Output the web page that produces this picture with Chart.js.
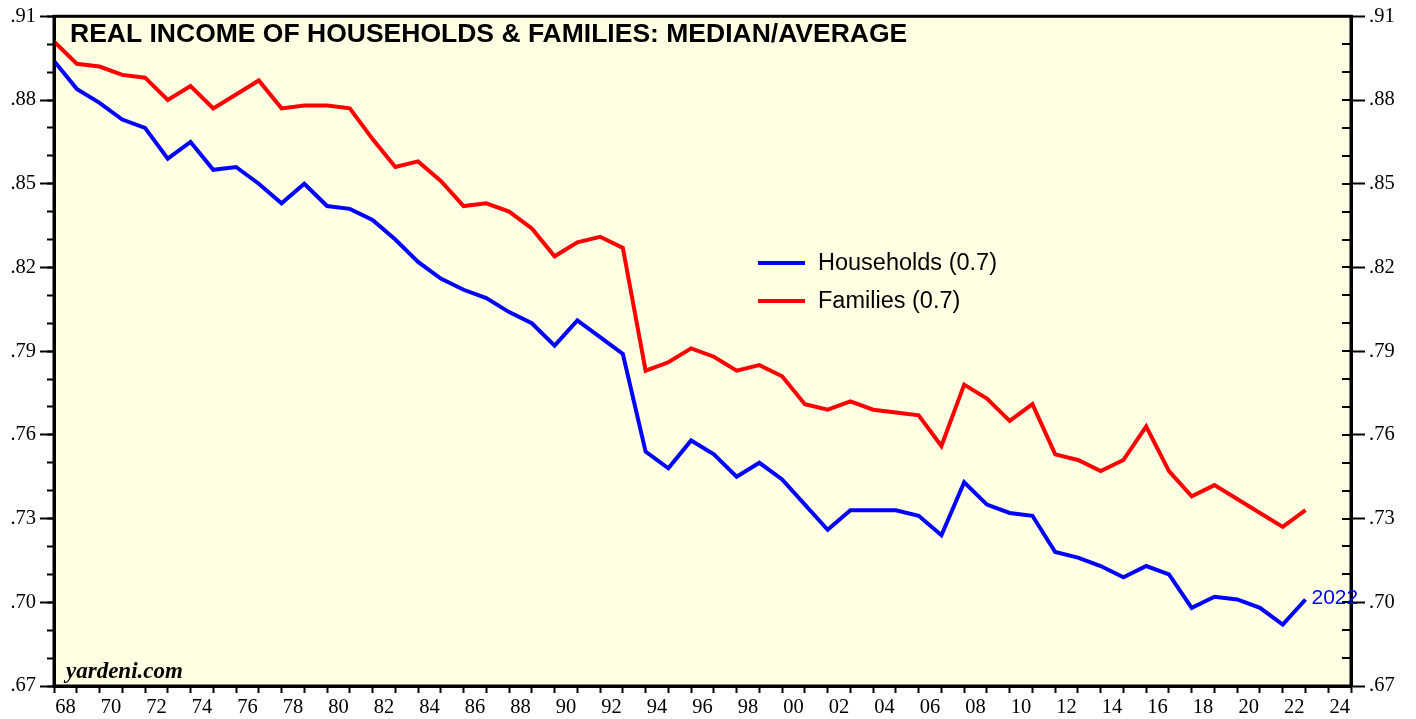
<!DOCTYPE html>
<html>
<head>
<meta charset="utf-8">
<script src="https://cdn.jsdelivr.net/npm/chart.js@4"></script>
<style>
  html, body { margin: 0; padding: 0; background: #fff; }
  #wrap { width: 1416px; height: 719px; position: relative; }
</style>
</head>
<body>
<div id="wrap"><canvas id="chart"></canvas></div>
<script>
const years = [1967, 1968, 1969, 1970, 1971, 1972, 1973, 1974, 1975, 1976,
    1977, 1978, 1979, 1980, 1981, 1982, 1983, 1984, 1985, 1986,
    1987, 1988, 1989, 1990, 1991, 1992, 1993, 1994, 1995, 1996,
    1997, 1998, 1999, 2000, 2001, 2002, 2003, 2004, 2005, 2006,
    2007, 2008, 2009, 2010, 2011, 2012, 2013, 2014, 2015, 2016,
    2017, 2018, 2019, 2020, 2021, 2022];

// median / average ratio
const households = [.894, .884, .879, .873, .870, .859, .865, .855, .856, .850,
    .843, .850, .842, .841, .837, .830, .822, .816, .812, .809,
    .804, .800, .792, .801, .795, .789, .754, .748, .758, .753,
    .745, .750, .744, .735, .726, .733, .733, .733, .731, .724,
    .743, .735, .732, .731, .718, .716, .713, .709, .713, .710,
    .698, .702, .701, .698, .692, .701];

const families = [.901, .893, .892, .889, .888, .880, .885, .877, .882, .887,
    .877, .878, .878, .877, .866, .856, .858, .851, .842, .843,
    .840, .834, .824, .829, .831, .827, .783, .786, .791, .788,
    .783, .785, .781, .771, .769, .772, .769, .768, .767, .756,
    .778, .773, .765, .771, .753, .751, .747, .751, .763, .747,
    .738, .742, .737, .732, .727, .733];

const seriesNames = ['Households (0.7)', 'Families (0.7)'];
const yMin = .67, yMax = .91;
const xMin = 1967, xMax = 2024;

const serif = '"Liberation Serif", "Times New Roman", serif';
const sans = '"Liberation Sans", Arial, sans-serif';

// plot background + frame + text
const decor = {
    id: 'decor',
    beforeDraw(chart) {
        const { ctx, chartArea: a } = chart;
        ctx.save();
        ctx.fillStyle = '#FFFFE3';
        ctx.fillRect(a.left, a.top, a.right - a.left, a.bottom - a.top);
        ctx.restore();
    },
    afterDraw(chart) {
        const { ctx, chartArea: a } = chart;
        ctx.save();
        ctx.strokeStyle = '#000';
        ctx.lineWidth = 3;
        ctx.strokeRect(a.left, a.top, a.right - a.left, a.bottom - a.top);

        // right side minor ticks point into the plot
        const rs = chart.scales.yMinorR;
        ctx.lineWidth = 2;
        rs.ticks.forEach(t => {
            const py = Math.round(rs.getPixelForValue(t.value));
            ctx.beginPath();
            ctx.moveTo(a.right - 9, py);
            ctx.lineTo(a.right, py);
            ctx.stroke();
        });

        ctx.fillStyle = '#000';
        ctx.textBaseline = 'alphabetic';
        ctx.font = 'bold 26.5px ' + sans;
        ctx.fillText('REAL INCOME OF HOUSEHOLDS & FAMILIES: MEDIAN/AVERAGE', 70, 42);

        ctx.font = 'italic bold 23px ' + serif;
        ctx.fillText('yardeni.com', 66, 678);

        // legend
        chart.data.datasets.forEach((ds, i) => {
            const y = 263 + i * 38;
            ctx.strokeStyle = ds.borderColor;
            ctx.lineWidth = 4;
            ctx.beginPath();
            ctx.moveTo(758, y);
            ctx.lineTo(805, y);
            ctx.stroke();
            ctx.fillStyle = '#000';
            ctx.font = '23.5px ' + sans;
            ctx.textBaseline = 'middle';
            ctx.fillText(ds.label, 818, y + 1);
        });

        // last value label
        const xs = chart.scales.x, ys = chart.scales.y;
        const last = years.length - 1;
        ctx.fillStyle = '#0000FF';
        ctx.font = '21px ' + sans;
        ctx.textBaseline = 'middle';
        ctx.fillText(String(years[last]), xs.getPixelForValue(years[last]) + 6,
            ys.getPixelForValue(households[last]) - 1);
        ctx.restore();
    }
};

const fmtY = v => {
    const c = Math.round(v * 100);
    return (c - 67) % 3 === 0 ? '.' + c : '';
};

function yAxis(position, major) {
    const hidden = !major && position === 'right';
    return {
        type: 'linear',
        position: position,
        min: yMin,
        max: yMax,
        weight: major ? 1 : 0,
        grid: {
            drawOnChartArea: false,
            drawTicks: !hidden,
            tickLength: major ? 14 : 7,
            tickColor: '#000',
            tickWidth: 2
        },
        border: { display: !major, color: '#000', width: 3 },
        ticks: {
            display: major,
            stepSize: major ? .03 : .01,
            color: '#000',
            padding: 4,
            font: { family: serif, size: 20.5 },
            callback: fmtY
        },
        afterFit(scale) {
            scale.width = major ? (position === 'left' ? 54 : 65) : 0;
        }
    };
}

new Chart(document.getElementById('chart'), {
    type: 'line',
    data: {
        datasets: [
            {
                label: seriesNames[0],
                data: years.map((yr, i) => ({ x: yr, y: households[i] })),
                borderColor: '#0000FF',
                borderWidth: 4,
                pointRadius: 0,
                tension: 0
            },
            {
                label: seriesNames[1],
                data: years.map((yr, i) => ({ x: yr, y: families[i] })),
                borderColor: '#FF0000',
                borderWidth: 4,
                pointRadius: 0,
                tension: 0
            }
        ]
    },
    options: {
        responsive: true,
        maintainAspectRatio: false,
        animation: false,
        layout: { padding: { top: 13, left: 0, right: 0, bottom: 0 } },
        plugins: {
            legend: { display: false },
            tooltip: { enabled: false },
            title: { display: false }
        },
        scales: {
            x: {
                type: 'linear',
                min: xMin,
                max: xMax,
                grid: {
                    drawOnChartArea: false,
                    tickLength: 7,
                    tickColor: '#000',
                    tickWidth: 2
                },
                border: { color: '#000', width: 3 },
                ticks: {
                    stepSize: 1,
                    autoSkip: false,
                    maxRotation: 0,
                    color: '#000',
                    padding: 2,
                    labelOffset: 11.4,
                    font: { family: serif, size: 20.5 },
                    callback: v => (v % 2 === 1 ? String((v + 1) % 100).padStart(2, '0') : '')
                },
                afterFit(scale) { scale.height = 33; }
            },
            yMinorL: yAxis('left', false),
            y: yAxis('left', true),
            yMinorR: yAxis('right', false),
            yR: yAxis('right', true)
        }
    },
    plugins: [decor]
});
</script>
</body>
</html>
